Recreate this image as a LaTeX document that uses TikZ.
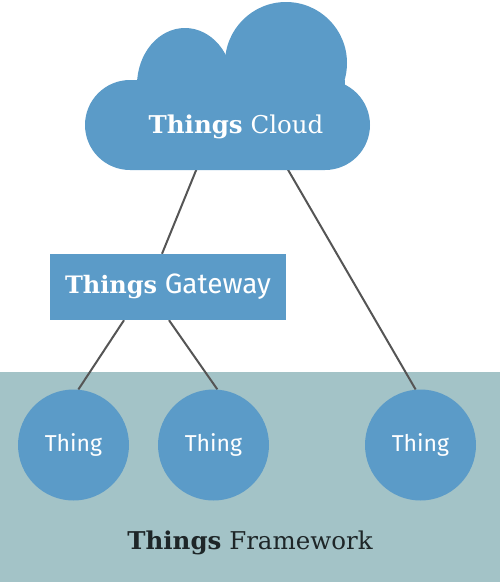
\documentclass[tikz,border=0pt]{standalone}
\usepackage{fontspec}
\setmainfont{DejaVu Serif}
\newfontfamily\fira{Fira Sans}
\usetikzlibrary{backgrounds}
\definecolor{blu}{HTML}{5B9BC8}
\definecolor{band}{HTML}{A3C3C7}
\definecolor{wire}{HTML}{555555}
\definecolor{ink}{HTML}{1E2628}
\tikzset{
  wirestyle/.style={draw=wire,line width=2pt},
  thingnode/.style={circle,fill=blu,minimum size=111pt,inner sep=0pt,text=white,font=\fira\fontsize{23}{27}\selectfont},
  gwnode/.style={rectangle,fill=blu,minimum width=236pt,minimum height=66pt,inner sep=0pt,text=white,font=\fontsize{24}{28}\selectfont},
  labelnode/.style={inner sep=0pt,font=\fontsize{24.5}{29}\selectfont}
}
\begin{document}
\begin{tikzpicture}[x=1pt,y=-1pt]
\useasboundingbox (0,0) rectangle (500,582);
% cloud
\fill[blu,rounded corners=45pt] (85,80) rectangle (370,170);
\fill[blu] (185,85) ellipse[x radius=48,y radius=57];
\fill[blu] (286,63) circle[radius=61];
\fill[blu] (140,80) rectangle (345,130);
\node[labelnode,text=white] (cloud) at (236,127) {\textbf{Things} Cloud};
\coordinate (cl1) at (197,168);
\coordinate (cl2) at (287,168);
% gateway
\node[gwnode] (gw) at (168,287) {\raisebox{-3pt}{\textbf{Things} {\fira\fontsize{28}{32}\selectfont Gateway}}};
% things
\node[thingnode] (t1) at (73.5,445) {\raisebox{-1.5pt}{Thing}};
\node[thingnode] (t2) at (213.5,445) {\raisebox{-1.5pt}{Thing}};
\node[thingnode] (t3) at (420.5,445) {\raisebox{-1.5pt}{Thing}};
% framework label
\node[labelnode,text=ink] (fw) at (250,543) {\textbf{Things} Framework};
% band and connectors behind
\begin{scope}[on background layer]
\fill[band] (0,372) rectangle (500,582);
\draw[wirestyle] (cl1) -- ([xshift=-6pt]gw.north);
\draw[wirestyle] (cl2) -- (t3.95);
\draw[wirestyle] ([xshift=-44pt]gw.south) -- (t1.85);
\draw[wirestyle] ([xshift=1pt]gw.south) -- (t2.86);
\end{scope}
\end{tikzpicture}
\end{document}
